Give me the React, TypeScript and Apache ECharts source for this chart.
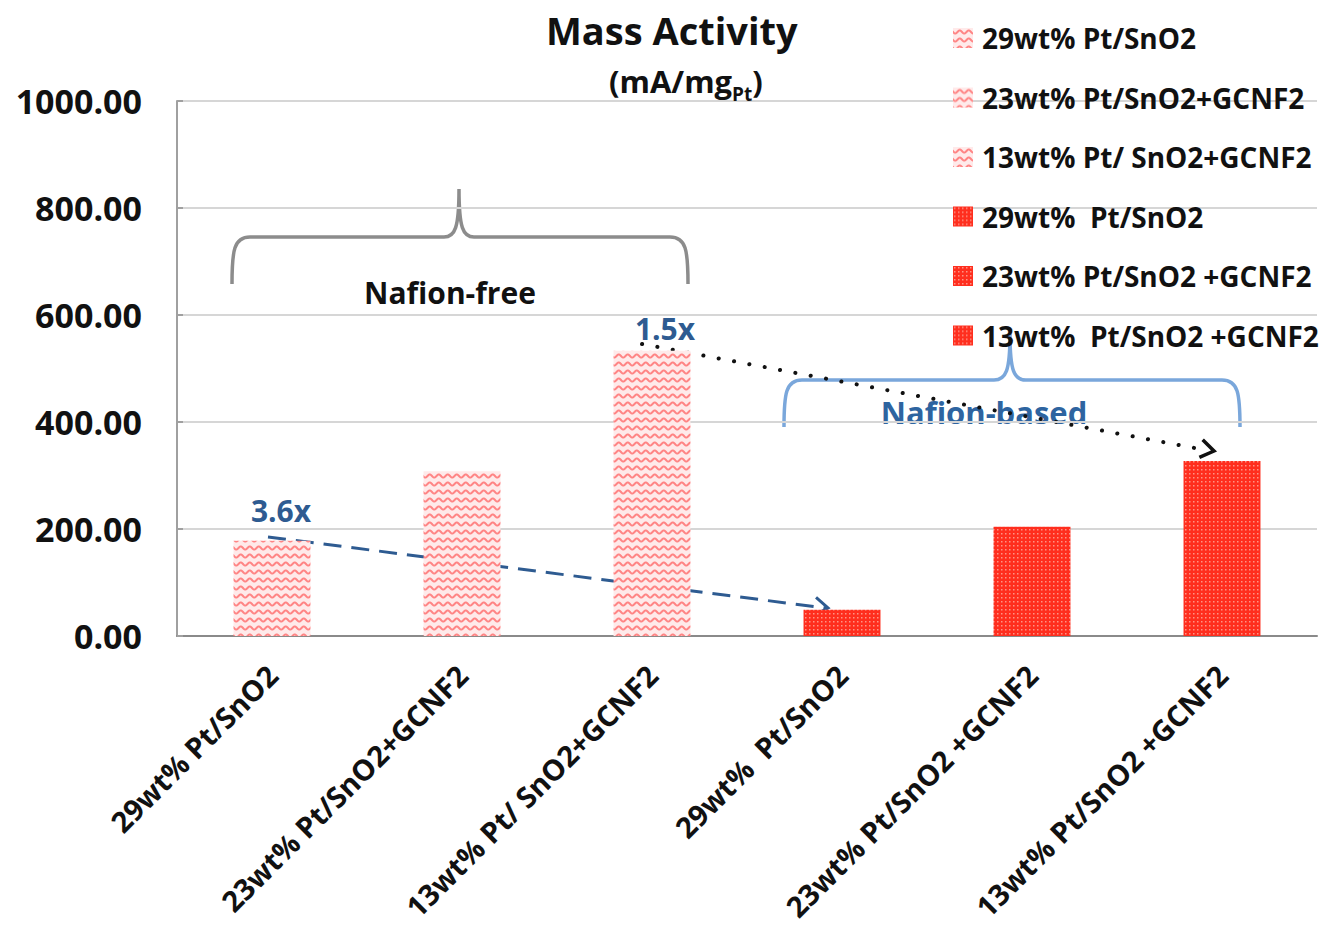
import React, { useEffect, useRef } from "react";
import * as echarts from "echarts";

const categories = [
  "29wt% Pt/SnO2",
  "23wt% Pt/SnO2+GCNF2",
  "13wt% Pt/ SnO2+GCNF2",
  "29wt%  Pt/SnO2",
  "23wt% Pt/SnO2 +GCNF2",
  "13wt% Pt/SnO2 +GCNF2",
];
const seriesNames = [
  "29wt% Pt/SnO2",
  "23wt% Pt/SnO2+GCNF2",
  "13wt% Pt/ SnO2+GCNF2",
  "29wt%  Pt/SnO2",
  "23wt% Pt/SnO2 +GCNF2",
  "13wt%  Pt/SnO2 +GCNF2",
];
const values = [178, 308, 533, 49, 204, 327];
const patternKinds = ["wave", "wave", "wave", "dot", "dot", "dot"];

const FONT = "Open Sans";

function makeWave(): HTMLCanvasElement {
  const c = document.createElement("canvas");
  c.width = 9;
  c.height = 8;
  const g = c.getContext("2d")!;
  g.fillStyle = "#ffeaea";
  g.fillRect(0, 0, 9, 8);
  g.strokeStyle = "#ff8585";
  g.lineWidth = 2;
  g.beginPath();
  for (let x = -1; x <= 10; x += 0.5) {
    const y = 4 + 1.6 * Math.sin((x / 9) * Math.PI * 2);
    if (x === -1) g.moveTo(x, y);
    else g.lineTo(x, y);
  }
  g.stroke();
  return c;
}

function makeDot(): HTMLCanvasElement {
  const c = document.createElement("canvas");
  c.width = 4;
  c.height = 4;
  const g = c.getContext("2d")!;
  g.fillStyle = "#ff2e1e";
  g.fillRect(0, 0, 4, 4);
  g.fillStyle = "#ff9385";
  g.fillRect(1, 1, 1.5, 1.5);
  return c;
}

const braceGray =
  "M232,284 C232,250 234,237 250,237 L444,237 C455,237 459,228 459,189 C459,228 463,237 474,237 L670,237 C686,237 688,250 688,284";
const braceBlue =
  "M784,427 C784,393 786,380 802,380 L994,380 C1006,380 1010,371 1010,334 C1010,371 1014,380 1026,380 L1222,380 C1238,380 1240,393 1240,427";

function arrowHead(x1: number, y1: number, x2: number, y2: number, len: number, ang: number) {
  const a = Math.atan2(y2 - y1, x2 - x1);
  return [
    [x2 - len * Math.cos(a - ang), y2 - len * Math.sin(a - ang)],
    [x2, y2],
    [x2 - len * Math.cos(a + ang), y2 - len * Math.sin(a + ang)],
  ];
}

export default function App() {
  const ref = useRef<HTMLDivElement>(null);
  useEffect(() => {
    if (!ref.current) return;
    echarts.graphic.registerShape("braceGray", echarts.graphic.extendPath(braceGray, {}) as any);
    echarts.graphic.registerShape("braceBlue", echarts.graphic.extendPath(braceBlue, {}) as any);
    const chart = echarts.init(ref.current, null, { renderer: "svg" });
    const wave = makeWave();
    const dot = makeDot();
    const fills = patternKinds.map((k) => {
      const img = k === "wave" ? wave : dot;
      return { image: img, repeat: "repeat", imageWidth: img.width, imageHeight: img.height };
    });

    const series = seriesNames.map((name, i) => ({
      name,
      type: "bar",
      stack: "all",
      barWidth: "40.5%",
      data: values.map((v, j) => (j === i ? v : "-")),
      itemStyle: { color: fills[i] as any },
    }));

    const dashHead = arrowHead(268, 537, 828, 608, 16, 0.6);
    const dotHead = arrowHead(640, 344, 1214, 451, 16, 0.6);

    chart.setOption({
      animation: false,
      backgroundColor: "#ffffff",
      textStyle: { fontFamily: FONT },
      title: [
        {
          text: "Mass Activity",
          left: 541,
          top: 6,
          textStyle: { fontFamily: FONT, fontWeight: "bold", fontSize: 38, color: "#111" },
        },
        {
          text: "{m|(mA/mg}{s|Pt}{m|)}",
          left: 604,
          top: 54,
          textStyle: {
            fontFamily: FONT,
            fontWeight: "bold",
            fontSize: 31,
            color: "#111",
            rich: {
              m: { fontFamily: FONT, fontWeight: "bold", fontSize: 31, color: "#111", lineHeight: 44, verticalAlign: "middle" },
              s: { fontFamily: FONT, fontWeight: "bold", fontSize: 19, color: "#111", lineHeight: 44, padding: [18, 0, 0, 0], verticalAlign: "bottom" },
            },
          },
        },
      ],
      legend: {
        orient: "vertical",
        left: 948,
        top: 19,
        itemWidth: 20,
        itemHeight: 20,
        itemGap: 31.5,
        icon: "rect",
        data: seriesNames,
        textStyle: { fontFamily: FONT, fontWeight: "bold", fontSize: 28, color: "#111", padding: [0, 0, 0, 4] },
      },
      grid: { left: 177, right: 14, top: 101, bottom: 293, containLabel: false },
      xAxis: {
        type: "category",
        data: categories,
        axisLine: { lineStyle: { color: "#8a8a8a", width: 2 } },
        axisTick: { show: false },
        axisLabel: {
          rotate: 45,
          interval: 0,
          margin: 34,
          fontFamily: FONT,
          fontWeight: "bold",
          fontSize: 29,
          color: "#111",
        },
      },
      yAxis: {
        type: "value",
        min: 0,
        max: 1000,
        interval: 200,
        axisLine: { show: true, lineStyle: { color: "#a0a0a0", width: 2 } },
        axisTick: { show: true, inside: true, length: 6, lineStyle: { color: "#a0a0a0", width: 2 } },
        splitLine: { lineStyle: { color: "#d6d6d6", width: 2 } },
        axisLabel: {
          formatter: (v: number) => v.toFixed(2),
          margin: 35,
          fontFamily: FONT,
          fontWeight: "bold",
          fontSize: 34,
          color: "#111",
        },
      },
      series,
      graphic: [
        { type: "braceGray", x: 0, y: 0, silent: true, style: { fill: "none", stroke: "#8c8c8c", lineWidth: 3.5 } },
        { type: "braceBlue", x: 0, y: 0, silent: true, style: { fill: "none", stroke: "#7aa7db", lineWidth: 3.5 } },
        {
          type: "text",
          x: 450,
          y: 292,
          style: { text: "Nafion-free", fontFamily: FONT, fontWeight: "bold", fontSize: 30, fill: "#111", align: "center", verticalAlign: "middle" },
        },
        {
          type: "text",
          x: 984,
          y: 412,
          style: { text: "Nafion-based", fontFamily: FONT, fontWeight: "bold", fontSize: 31, fill: "#2e64a0", align: "center", verticalAlign: "middle" },
        },
        {
          type: "text",
          x: 281,
          y: 510,
          style: { text: "3.6x", fontFamily: FONT, fontWeight: "bold", fontSize: 30, fill: "#2e5b91", align: "center", verticalAlign: "middle" },
        },
        {
          type: "text",
          x: 665,
          y: 328,
          style: { text: "1.5x", fontFamily: FONT, fontWeight: "bold", fontSize: 30, fill: "#2e5b91", align: "center", verticalAlign: "middle" },
        },
        {
          type: "line",
          shape: { x1: 268, y1: 537, x2: 826, y2: 608 },
          style: { stroke: "#2e5b91", lineWidth: 3, lineDash: [18, 10] },
        },
        {
          type: "polyline",
          shape: { points: dashHead },
          style: { stroke: "#2e5b91", lineWidth: 3, fill: "none" },
        },
        {
          type: "line",
          shape: { x1: 642, y1: 344, x2: 1200, y2: 449 },
          style: { stroke: "#111", lineWidth: 4, lineDash: [0.1, 15.5], lineCap: "round" },
        },
        {
          type: "polyline",
          shape: { points: dotHead },
          style: { stroke: "#111", lineWidth: 3.5, fill: "none" },
        },
      ],
    });
    return () => chart.dispose();
  }, []);
  return <div ref={ref} style={{ width: 1331, height: 929, margin: -8 }} />;
}
